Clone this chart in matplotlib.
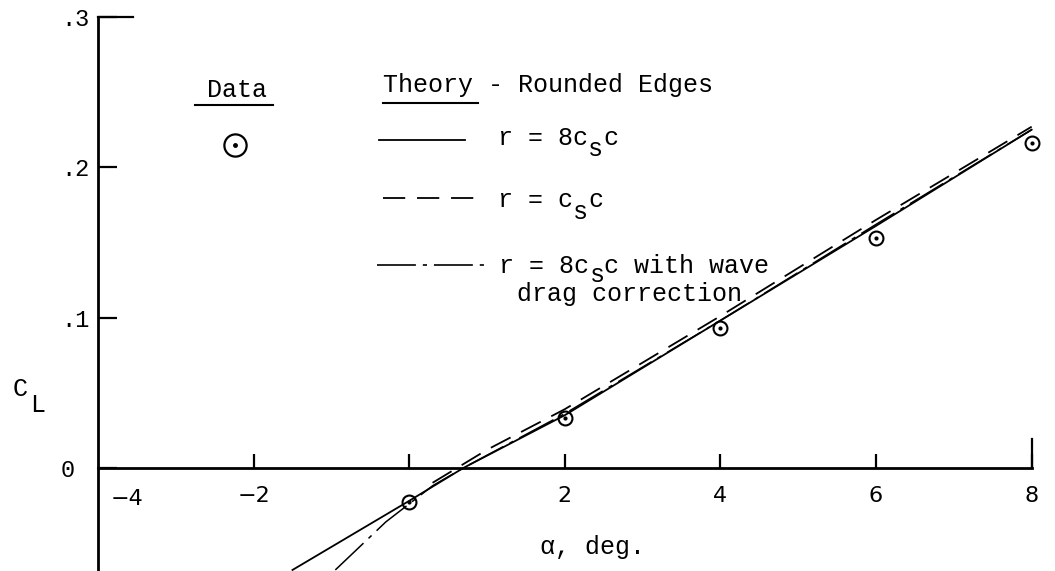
import matplotlib
matplotlib.use('Agg')
import matplotlib.pyplot as plt

# measured lift coefficient
alpha_data = [0, 2, 4, 6, 8]
cl_data = [-0.023, 0.033, 0.093, 0.153, 0.216]

# theory, r = 8 c_s c
alpha_8cs = [-1.5, 0.0, 0.7, 2.0, 4.0, 6.0, 8.0]
cl_8cs = [-0.068, -0.022, 0.0, 0.035, 0.098, 0.161, 0.225]

# theory, r = c_s c
alpha_cs = [0.3, 1.0, 2.0, 4.0, 6.0, 8.0]
cl_cs = [-0.010, 0.012, 0.039, 0.101, 0.165, 0.227]

# theory, r = 8 c_s c with wave drag correction
alpha_wave = [-0.95, -0.3, 0.3, 0.7, 2.0, 4.0, 6.0, 8.0]
cl_wave = [-0.068, -0.036, -0.012, 0.0, 0.036, 0.098, 0.162, 0.225]

x_ticks = [-2, 0, 2, 4, 6, 8]
x_labels = ['\u22122', '', '2', '4', '6', '8']
y_ticks = [0, 0.1, 0.2, 0.3]
y_labels = ['0 ', '.1', '.2', '.3']

MONO = 'Liberation Mono'
FS = 18
plt.rcParams['lines.scale_dashes'] = False

DASHED = (0, (16, 8.5))
DASHDOT = (0, (28, 5, 3, 5))


def main():
    fig = plt.figure(figsize=(10.55, 5.71), dpi=100)
    ax = fig.add_axes([98 / 1055, 0, 1 - 98 / 1055, 1 - 17 / 571])
    ax.set_xlim(-4, 8.3)
    ax.set_ylim(-0.0687, 0.3)

    for s in ['top', 'right']:
        ax.spines[s].set_visible(False)
    ax.spines['bottom'].set_position(('data', 0))
    ax.spines['bottom'].set_bounds(-4, 8)
    ax.spines['left'].set_linewidth(2.0)
    ax.spines['bottom'].set_linewidth(2.0)

    ax.set_xticks(x_ticks)
    ax.set_xticklabels(x_labels, family='DejaVu Sans', fontsize=16)
    ax.tick_params(axis='x', direction='in', length=10, width=1.6, pad=13)
    ax.set_yticks(y_ticks)
    ax.set_yticklabels(y_labels, family=MONO, fontsize=17)
    ax.tick_params(axis='y', direction='in', length=14, width=1.6, pad=6)

    # long top mark and tall end mark of the frame
    ax.plot([-4, -3.55], [0.3, 0.3], color='black', lw=1.6, clip_on=False)
    ax.plot([8, 8], [0, 0.019], color='black', lw=1.6)
    ax.text(-3.63, -0.021, '\u22124', family='DejaVu Sans', fontsize=16,
            ha='center', va='center')

    # curves
    ax.plot(alpha_8cs, cl_8cs, color='black', lw=1.3)
    ax.plot(alpha_cs, cl_cs, color='black', lw=1.3, linestyle=DASHED)
    ax.plot(alpha_wave, cl_wave, color='black', lw=1.1, linestyle=DASHDOT)

    ax.plot(alpha_data, cl_data, 'o', ms=10, mfc='none', mec='black',
            mew=1.5)
    ax.plot(alpha_data, cl_data, 'o', ms=2, color='black')

    # key
    ax.text(-2.21, 0.2515, 'Data', family=MONO, fontsize=FS,
            ha='center', va='center')
    ax.plot([-2.75, -1.75], [0.2416, 0.2416], color='black', lw=1.5)
    ax.plot([-2.24], [0.215], 'o', ms=16, mfc='none', mec='black', mew=1.6)
    ax.plot([-2.24], [0.215], 'o', ms=2.5, color='black')

    ax.text(-0.34, 0.255, 'Theory - Rounded Edges', family=MONO,
            fontsize=FS, ha='left', va='center')
    ax.plot([-0.34, 0.88], [0.2425, 0.2425], color='black', lw=1.5)

    cw = 0.6 * FS / 72 * 100 / 77.8

    def put_label(x, y, head, tail, drop=0.0075):
        ax.text(x, y, head, family=MONO, fontsize=FS, ha='left',
                va='center')
        ax.text(x + len(head) * cw, y - drop, 's', family=MONO,
                fontsize=FS, ha='left', va='center')
        ax.text(x + (len(head) + 1) * cw, y, tail, family=MONO,
                fontsize=FS, ha='left', va='center')

    ax.plot([-0.39, 0.72], [0.218, 0.218], color='black', lw=1.3)
    put_label(1.14, 0.2196, 'r = 8c', 'c')

    ax.plot([-0.34, 0.87], [0.1796, 0.1796], color='black', lw=1.3,
            linestyle=DASHED)
    put_label(1.14, 0.178, 'r = c', 'c')

    ax.plot([-0.42, 1.04], [0.135, 0.135], color='black', lw=1.2,
            linestyle=DASHDOT)
    put_label(1.16, 0.1345, 'r = 8c', 'c with wave', drop=0.0065)
    ax.text(1.38, 0.1155, 'drag correction', family=MONO, fontsize=FS,
            ha='left', va='center')

    # axis titles
    fig.text(20 / 1055, 1 - 389 / 571, 'C', family=MONO, fontsize=18,
             ha='center', va='center')
    fig.text(38 / 1055, 1 - 405 / 571, 'L', family=MONO, fontsize=18,
             ha='center', va='center')
    fig.text(592 / 1055, 1 - 547 / 571, '\u03b1, deg.', family=MONO,
             fontsize=18, ha='center', va='center')

    fig.savefig('out.png', dpi=100)


if __name__ == '__main__':
    main()
